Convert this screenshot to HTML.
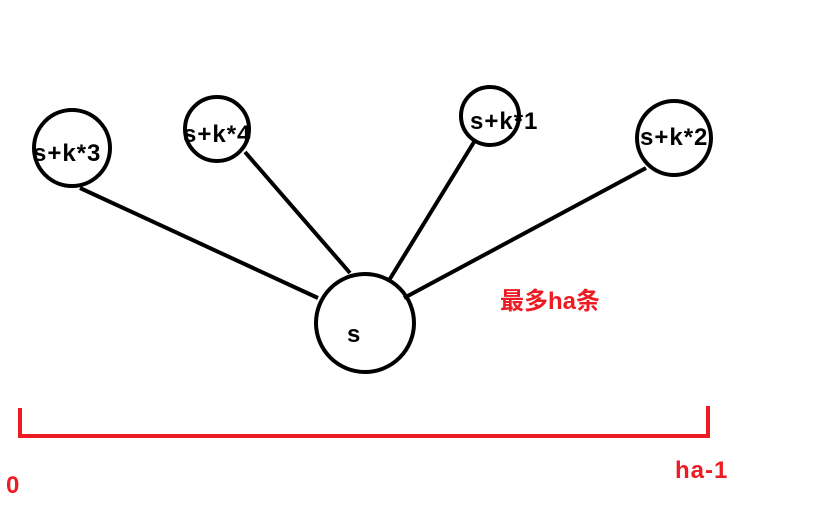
<!DOCTYPE html>
<html><head><meta charset="utf-8"><style>
html,body{margin:0;padding:0;background:#fff;}
svg{display:block;}
text{font-family:"Liberation Sans","Noto Sans CJK SC",sans-serif;font-weight:bold;}
</style></head><body>
<svg width="821" height="520" viewBox="0 0 821 520" xmlns="http://www.w3.org/2000/svg">
<g stroke="#000" stroke-width="4" fill="none">
<line x1="80" y1="188" x2="318" y2="298"/>
<line x1="245" y1="152" x2="350" y2="273"/>
<line x1="474" y1="142" x2="388" y2="282"/>
<line x1="646" y1="168" x2="404" y2="298"/>
<circle cx="72" cy="148" r="38"/>
<circle cx="217" cy="129" r="32"/>
<circle cx="365" cy="323" r="49"/>
<circle cx="490" cy="116" r="29"/>
<circle cx="674" cy="138" r="37"/>
</g>
<g fill="#000" font-size="24" letter-spacing="1">
<text x="33" y="161">s+k*3</text>
<text x="183" y="142">s+k*4</text>
<text x="470" y="129">s+k*1</text>
<text x="640" y="145">s+k*2</text>
<text x="347" y="342">s</text>
</g>
<g stroke="#ed1c24" stroke-width="4" fill="none" stroke-linecap="square">
<polyline points="20,410 20,436 708,436 708,408"/>
</g>
<g fill="#ed1c24">
<text x="500" y="309" font-size="24">最多ha条</text>
<text x="675" y="478" font-size="24" letter-spacing="1">ha-1</text>
<text x="6" y="493" font-size="24">0</text>
</g>
</svg>
</body></html>
